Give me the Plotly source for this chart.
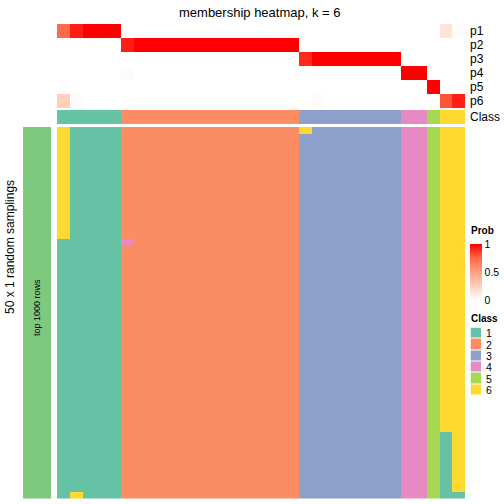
import plotly.graph_objects as go

W = H = 504

# ---------------- data ----------------
prob_rows = ["p1", "p2", "p3", "p4", "p5", "p6"]
p1 = [0.73, 0.93, 1, 1, 1] + [0] * 14 + [0] * 8 + [0, 0] + [0] + [0.15, 0.02]
p2 = [0, 0, 0, 0, 0] + [0.93] + [1] * 13 + [0] * 8 + [0, 0] + [0] + [0, 0]
p3 = [0] * 5 + [0] * 14 + [0.9] + [1] * 7 + [0, 0] + [0] + [0, 0]
p4 = [0] * 5 + [0.02] + [0] * 13 + [0] * 8 + [1, 1] + [0] + [0, 0]
p5 = [0] * 5 + [0] * 14 + [0] * 8 + [0, 0] + [1] + [0, 0]
p6 = [0.25, 0.02, 0, 0, 0] + [0] * 14 + [0, 0.02] + [0] * 6 + [0, 0] + [0] + [0.8, 0.93]
prob = [p1, p2, p3, p4, p5, p6]

class_row = [1] * 5 + [2] * 14 + [3] * 8 + [4] * 2 + [5] * 1 + [6] * 2
n_cols = len(class_row)
n_samplings = 50

# per-column runs (class, number of samplings) for the 50 random samplings
column_runs = {
    0: [(6, 15), (1, 35)],
    1: [(1, 49), (6, 1)],
    5: [(2, 15), (4, 1), (2, 34)],
    19: [(6, 1), (3, 49)],
    30: [(6, 41), (1, 9)],
    31: [(6, 49), (1, 1)],
}

class_labels = ["1", "2", "3", "4", "5", "6"]
class_colors = ["#66C2A5", "#FC8D62", "#8DA0CB", "#E78AC3", "#A6D854", "#FFD92F"]
bar_color = "#7FC97F"

# ---------------- build matrix ----------------
cols = []
for j in range(n_cols):
    runs = column_runs.get(j, [(class_row[j], n_samplings)])
    col = []
    for c, n in runs:
        col += [c] * n
    cols.append(col)
samp = [[cols[j][i] for j in range(n_cols)] for i in range(n_samplings)]

def disc_scale(colors):
    n = len(colors)
    cs = []
    for k, c in enumerate(colors):
        cs.append([k / n, c])
        cs.append([(k + 1) / n, c])
    return cs

class_cs = disc_scale(class_colors)
prob_cs = [[0, "#FFFFFF"], [0.25, "rgb(255,207,190)"], [0.5, "rgb(255,158,129)"],
           [0.75, "rgb(255,104,70)"], [1, "#FF0000"]]

def px(x):
    return x / W

def py(y):
    return 1 - y / H

FONT = "Liberation Sans, Arial, Helvetica, sans-serif"

fig = go.Figure()

# prob heatmap
fig.add_trace(go.Heatmap(
    z=prob, x=list(range(n_cols)), y=list(range(6)), xaxis="x", yaxis="y",
    colorscale=prob_cs, zmin=0, zmax=1, hoverinfo="skip",
    colorbar=dict(x=px(470), xanchor="left", y=py(272), yanchor="middle",
                  lenmode="pixels", len=56, thickness=12, outlinewidth=0,
                  xpad=0, ypad=0, tickvals=[0, 0.5, 1], ticktext=["0", "0.5", "1"],
                  ticks="", ticklabelposition="outside",
                  tickfont=dict(size=10.5, color="black", family=FONT)),
))
# class row
fig.add_trace(go.Heatmap(
    z=[class_row], x=list(range(n_cols)), y=[0], xaxis="x", yaxis="y2",
    colorscale=class_cs, zmin=0.5, zmax=6.5, showscale=False, hoverinfo="skip",
))
# samplings
fig.add_trace(go.Heatmap(
    z=samp, x=list(range(n_cols)), y=list(range(n_samplings)), xaxis="x", yaxis="y3",
    colorscale=class_cs, zmin=0.5, zmax=6.5, showscale=False, hoverinfo="skip",
))
# left bar
fig.add_trace(go.Heatmap(
    z=[[1] for _ in range(n_samplings)], x=[0], y=list(range(n_samplings)),
    xaxis="x2", yaxis="y3",
    colorscale=[[0, bar_color], [1, bar_color]], showscale=False, hoverinfo="skip",
))
# class legend
fig.add_trace(go.Heatmap(
    z=[[k + 1] for k in range(6)], x=[0], y=list(range(6)), xaxis="x3", yaxis="y4",
    colorscale=class_cs, zmin=0.5, zmax=6.5, showscale=False, hoverinfo="skip", ygap=1,
))

hid = dict(visible=False, showgrid=False, zeroline=False, fixedrange=True)
fig.update_layout(
    width=W, height=H, margin=dict(l=0, r=0, t=0, b=0),
    paper_bgcolor="white", plot_bgcolor="white", showlegend=False,
    font=dict(family=FONT, color="black"),
    xaxis=dict(domain=[px(57), px(465)], range=[-0.5, n_cols - 0.5], **hid),
    yaxis=dict(domain=[py(108), py(24)], range=[5.5, -0.5], anchor="x", **hid),
    yaxis2=dict(domain=[py(124), py(110)], range=[0.5, -0.5], anchor="x", **hid),
    yaxis3=dict(domain=[py(498.5), py(127)], range=[n_samplings - 0.5, -0.5], anchor="x", **hid),
    xaxis2=dict(domain=[px(23), px(51)], range=[-0.5, 0.5], anchor="y3", **hid),
    xaxis3=dict(domain=[px(470.5), px(481)], range=[-0.5, 0.5], anchor="y4", **hid),
    yaxis4=dict(domain=[py(395.5), py(327.5)], range=[5.5, -0.5], anchor="x3", **hid),
)

ann = []
ann.append(dict(text="membership heatmap, k = 6", x=px(260), y=py(12), xref="paper", yref="paper",
                showarrow=False, font=dict(size=13), xanchor="center", yanchor="middle"))
for i, name in enumerate(prob_rows):
    ann.append(dict(text=name, x=px(468), y=i, xref="paper", yref="y", showarrow=False,
                    font=dict(size=12), xanchor="left", yanchor="middle"))
ann.append(dict(text="Class", x=px(468), y=0, xref="paper", yref="y2", showarrow=False,
                font=dict(size=12), xanchor="left", yanchor="middle"))
ann.append(dict(text="50 x 1 random samplings", x=px(10), y=py(247), xref="paper", yref="paper",
                showarrow=False, font=dict(size=12), textangle=-90, xanchor="center", yanchor="middle"))
ann.append(dict(text="top 1000 rows", x=px(37), y=py(308), xref="paper", yref="paper",
                showarrow=False, font=dict(size=9), textangle=-90, xanchor="center", yanchor="middle"))
ann.append(dict(text="<b>Prob</b>", x=px(469), y=py(231), xref="paper", yref="paper",
                showarrow=False, font=dict(size=10), xanchor="left", yanchor="middle"))
ann.append(dict(text="<b>Class</b>", x=px(469), y=py(318), xref="paper", yref="paper",
                showarrow=False, font=dict(size=10), xanchor="left", yanchor="middle"))
for k, lab in enumerate(class_labels):
    ann.append(dict(text=lab, x=px(484), y=k, xref="paper", yref="y4", showarrow=False,
                    font=dict(size=10.5), xanchor="left", yanchor="middle"))
fig.update_layout(annotations=ann)

fig.write_html("out.html", config={"displayModeBar": False, "staticPlot": True},
               post_script="document.body.style.margin='0';document.body.style.overflow='hidden';")
